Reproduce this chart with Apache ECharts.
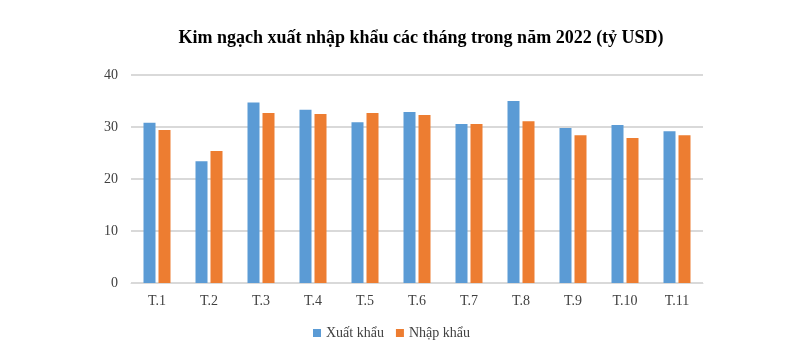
<!DOCTYPE html>
<html>
<head>
<meta charset="utf-8">
<script src="https://cdn.jsdelivr.net/npm/echarts@6/dist/echarts.min.js"></script>
<style>
  html, body { margin: 0; padding: 0; background: #fff; }
  #chart { width: 806px; height: 352px; }
</style>
</head>
<body>
<div id="chart"></div>
<script>
  // Kim ngạch xuất nhập khẩu 2022
  const months = ['T.1', 'T.2', 'T.3', 'T.4', 'T.5', 'T.6', 'T.7', 'T.8', 'T.9', 'T.10', 'T.11'];
  const xuatKhau = [30.8, 23.4, 34.7, 33.3, 30.9, 32.9, 30.6, 35.0, 29.8, 30.4, 29.2];
  const nhapKhau = [29.4, 25.4, 32.7, 32.5, 32.7, 32.3, 30.6, 31.1, 28.4, 27.9, 28.4];
  const yTicks = [0, 10, 20, 30, 40];

  const font = '"Liberation Serif", "Times New Roman", serif';
  let myChart = echarts.init(document.getElementById('chart'));

  let options = {
    backgroundColor: '#fff',
    animation: false,
    title: {
      text: 'Kim ngạch xuất nhập khẩu các tháng trong năm 2022 (tỷ USD)',
      left: 416,
      top: 24,
      textAlign: 'center',
      textStyle: {
        fontFamily: font,
        fontSize: 18,
        fontWeight: 'bold',
        color: '#000'
      }
    },
    legend: {
      bottom: 7,
      left: 308,
      itemWidth: 8,
      itemHeight: 8,
      itemGap: 12,
      icon: 'rect',
      textStyle: {
        fontFamily: font,
        fontSize: 14,
        color: '#404040'
      },
      data: ['Xuất khẩu', 'Nhập khẩu']
    },
    grid: {
      left: 131,
      right: 103,
      top: 75,
      bottom: 69,
      containLabel: false
    },
    xAxis: {
      type: 'category',
      data: months,
      axisLine: { lineStyle: { color: '#d9d9d9', width: 1 } },
      axisTick: { show: false },
      axisLabel: {
        fontFamily: font,
        fontSize: 14,
        color: '#404040',
        margin: 11
      }
    },
    yAxis: {
      type: 'value',
      min: yTicks[0],
      max: yTicks[yTicks.length - 1],
      interval: 10,
      axisLine: { show: false },
      axisTick: { show: false },
      axisLabel: {
        fontFamily: font,
        fontSize: 14,
        color: '#404040',
        margin: 13
      },
      splitLine: { lineStyle: { color: '#d9d9d9', width: 2 } }
    },
    series: [
      {
        name: 'Xuất khẩu',
        type: 'bar',
        barWidth: 12,
        barGap: '25%',
        itemStyle: { color: '#5b9bd5' },
        data: xuatKhau
      },
      {
        name: 'Nhập khẩu',
        type: 'bar',
        barWidth: 12,
        itemStyle: { color: '#ed7d31' },
        data: nhapKhau
      }
    ]
  };

  myChart.setOption(options);
</script>
</body>
</html>
